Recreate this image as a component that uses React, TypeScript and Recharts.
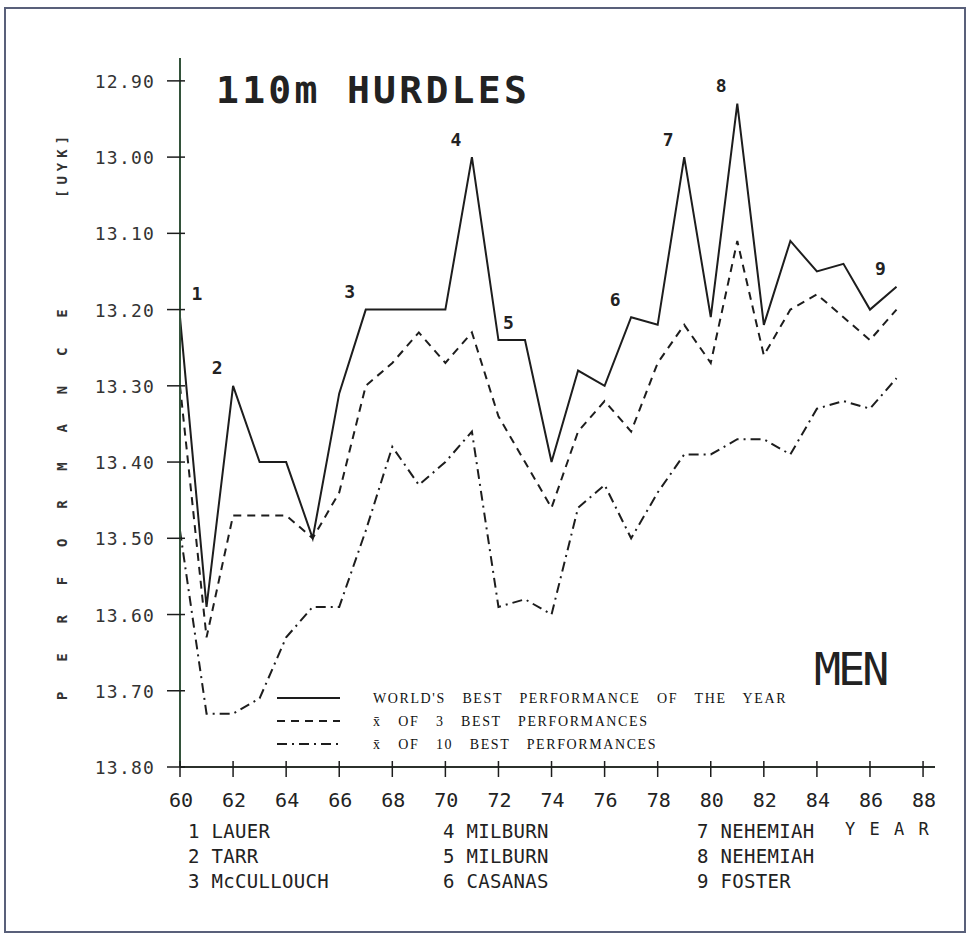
import React from "react";
import { LineChart, Line, XAxis, YAxis } from "recharts";

// years 1960..1987 (two-digit, as on the axis)
const years = [
  60, 61, 62, 63, 64, 65, 66, 67, 68, 69, 70, 71, 72, 73, 74, 75, 76, 77, 78,
  79, 80, 81, 82, 83, 84, 85, 86, 87,
];

// world's best performance of the year [s]
const bestOfYear = [
  13.21, 13.59, 13.3, 13.4, 13.4, 13.5, 13.31, 13.2, 13.2, 13.2, 13.2, 13.0,
  13.24, 13.24, 13.4, 13.28, 13.3, 13.21, 13.22, 13.0, 13.21, 12.93, 13.22,
  13.11, 13.15, 13.14, 13.2, 13.17,
];

// mean of 3 best performances
const meanOf3 = [
  13.3, 13.63, 13.47, 13.47, 13.47, 13.5, 13.44, 13.3, 13.27, 13.23, 13.27,
  13.23, 13.34, 13.4, 13.46, 13.36, 13.32, 13.36, 13.27, 13.22, 13.27, 13.11,
  13.26, 13.2, 13.18, 13.21, 13.24, 13.2,
];

// mean of 10 best performances
const meanOf10 = [
  13.49, 13.73, 13.73, 13.71, 13.63, 13.59, 13.59, 13.49, 13.38, 13.43, 13.4,
  13.36, 13.59, 13.58, 13.6, 13.46, 13.43, 13.5, 13.44, 13.39, 13.39, 13.37,
  13.37, 13.39, 13.33, 13.32, 13.33, 13.29,
];

// record marks on the top line (number refers to the athlete list)
const recordMarks = [
  "1", "", "2", "", "", "", "", "3", "", "", "", "4", "5", "", "", "", "",
  "6", "", "7", "", "8", "", "", "", "", "", "9",
];

const athletes = [
  "LAUER", "TARR", "McCULLOUCH", "MILBURN", "MILBURN", "CASANAS",
  "NEHEMIAH", "NEHEMIAH", "FOSTER",
];

const xTicks = [60, 62, 64, 66, 68, 70, 72, 74, 76, 78, 80, 82, 84, 86, 88];
const yTicks = [12.9, 13.0, 13.1, 13.2, 13.3, 13.4, 13.5, 13.6, 13.7, 13.8];

const data = years.map((year, i) => ({
  year,
  best: bestOfYear[i],
  mean3: meanOf3[i],
  mean10: meanOf10[i],
  mark: recordMarks[i],
}));

const series = [
  { key: "best", name: "WORLD'S BEST PERFORMANCE OF THE YEAR", dash: undefined },
  { key: "mean3", name: "x\u0304 OF 3 BEST PERFORMANCES", dash: "8 6" },
  { key: "mean10", name: "x\u0304 OF 10 BEST PERFORMANCES", dash: "10 5 2 5" },
];

const INK = "#1d1d1d";
const MONO = "'DejaVu Sans Mono', monospace";
const SERIF = "'Liberation Serif', 'DejaVu Serif', serif";

// label offsets for the record numbers
const markOffset: Record<string, [number, number]> = {
  "1": [17, -24],
  "5": [10, -18],
};

const XTick = (props: any) => {
  const { x, y, payload } = props;
  return (
    <g>
      <line x1={x} x2={x} y1={y - 8} y2={y + 8} stroke={INK} strokeWidth={1.5} />
      <text x={x + 1} y={y + 38} textAnchor="middle" fontFamily={MONO} fontSize={20} fill="#222">
        {payload.value}
      </text>
    </g>
  );
};

const YTick = (props: any) => {
  const { x, y, payload } = props;
  return (
    <g>
      <line x1={x - 11} x2={x + 7} y1={y} y2={y} stroke={INK} strokeWidth={1.5} />
      <text x={x - 23} y={y + 7} textAnchor="end" fontFamily={MONO} fontSize={18} letterSpacing={1.2} fill="#333">
        {payload.value.toFixed(2)}
      </text>
    </g>
  );
};

const MarkLabel = (props: any) => {
  const { x, y, index } = props;
  const m = data[index]?.mark;
  if (!m) return null;
  const [dx, dy] = markOffset[m] || [-16, -18];
  return (
    <text x={x + dx} y={y + dy} textAnchor="middle" dominantBaseline="central" fontFamily={MONO} fontSize={18} fontWeight="bold" fill="#222">
      {m}
    </text>
  );
};

function Overlay() {
  const cols = [188, 443, 697];
  return (
    <svg width={969} height={942} style={{ position: "absolute", left: 0, top: 0, pointerEvents: "none" }}>
      <rect x={5} y={8} width={960} height={924} fill="none" stroke="#59607a" strokeWidth={2} />
      <text x={216} y={103} fontFamily={MONO} fontSize={38} fontWeight="bold" letterSpacing={3.3} fill="#222">
        110m HURDLES
      </text>
      <text x={814} y={685} fontFamily={MONO} fontSize={45} letterSpacing={-3} fill="#222">
        MEN
      </text>
      <g transform="translate(62, 700) rotate(-90)">
        <text x={0} y={0} dominantBaseline="central" fontFamily={MONO} fontSize={14} fontWeight="bold" letterSpacing={29.8} fill="#333">
          PERFORMANCE
        </text>
      </g>
      <g transform="translate(62, 198) rotate(-90)">
        <text x={0} y={0} dominantBaseline="central" fontFamily={MONO} fontSize={14} fontWeight="bold" letterSpacing={5} fill="#333">
          [UYK]
        </text>
      </g>
      {series.map((s, i) => (
        <g key={s.key}>
          <line x1={277} x2={340} y1={698 + i * 23} y2={698 + i * 23} stroke={INK} strokeWidth={2} strokeDasharray={s.dash} />
          <text x={373} y={703 + i * 23} fontFamily={SERIF} fontSize={14} letterSpacing={1.6} wordSpacing={11.5} fill="#111">
            {s.name}
          </text>
        </g>
      ))}
      <text x={845} y={835} fontFamily={MONO} fontSize={17} letterSpacing={2} fill="#222">
        Y E A R
      </text>
      {athletes.map((a, i) => (
        <text key={i} x={cols[Math.floor(i / 3)]} y={838 + (i % 3) * 25} fontFamily={MONO} fontSize={19} letterSpacing={0.3} fill="#222">
          {`${i + 1} ${a}`}
        </text>
      ))}
    </svg>
  );
}

export default function App() {
  return (
    <div style={{ position: "absolute", left: 0, top: 0, width: 969, height: 942, background: "#fff" }}>
      <LineChart width={969} height={942} data={data} margin={{ top: 58, right: 34, left: 100, bottom: 135 }}>
        <XAxis
          dataKey="year"
          type="number"
          domain={[60, 88.45]}
          ticks={xTicks}
          tick={XTick}
          tickSize={0}
          tickLine={false}
          axisLine={{ stroke: "#2b302b", strokeWidth: 2 }}
          height={40}
          allowDataOverflow
        />
        <YAxis
          type="number"
          domain={[12.87, 13.8]}
          reversed
          ticks={yTicks}
          tick={YTick}
          tickSize={0}
          tickLine={false}
          axisLine={{ stroke: "#33523a", strokeWidth: 2 }}
          width={80}
          allowDataOverflow
        />
        {series.map((s) => (
          <Line
            key={s.key}
            type="linear"
            dataKey={s.key}
            name={s.name}
            stroke={INK}
            strokeWidth={2}
            strokeDasharray={s.dash}
            dot={false}
            isAnimationActive={false}
            label={s.key === "best" ? MarkLabel : false}
          />
        ))}
      </LineChart>
      <Overlay />
    </div>
  );
}
